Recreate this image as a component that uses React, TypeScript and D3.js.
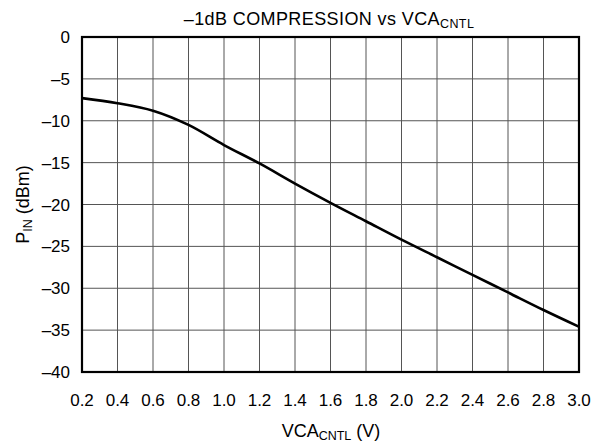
import React from "react";
import * as d3 from "d3";

const vcaValues = [0.2, 0.4, 0.6, 0.8, 1.0, 1.2, 1.4, 1.6, 1.8, 2.0, 2.2, 2.4, 2.6, 2.8, 3.0];
const pinValues = [-7.3, -7.9, -8.8, -10.5, -12.9, -15.1, -17.5, -19.8, -22.0, -24.2, -26.3, -28.4, -30.5, -32.6, -34.6];
const xTicks = [0.2, 0.4, 0.6, 0.8, 1.0, 1.2, 1.4, 1.6, 1.8, 2.0, 2.2, 2.4, 2.6, 2.8, 3.0];
const yTicks = [0, -5, -10, -15, -20, -25, -30, -35, -40];

const W = 594, H = 444;
const L = 82, R = 579, T = 37, B = 372;
const font = "'Liberation Sans', Arial, sans-serif";

export default function App() {
  const x = d3.scaleLinear().domain([0.2, 3.0]).range([L, R]);
  const y = d3.scaleLinear().domain([-40, 0]).range([B, T]);
  const pts = vcaValues.map((v, i) => [v, pinValues[i]] as [number, number]);
  const line = d3.line<[number, number]>().x(d => x(d[0])).y(d => y(d[1])).curve(d3.curveMonotoneX);
  const fmt = (v: number) => (v < 0 ? "\u2013" + Math.abs(v) : String(v));
  return (
    <svg width={W} height={H} style={{ position: "absolute", left: 0, top: 0, background: "#fff" }} fontFamily={font}>
      <rect x={0} y={0} width={W} height={H} fill="#fff" />
      {xTicks.map(t => (
        <line key={"gx" + t} x1={x(t)} x2={x(t)} y1={T} y2={B} stroke="#555" strokeWidth={1} />
      ))}
      {yTicks.map(t => (
        <line key={"gy" + t} x1={L} x2={R} y1={y(t)} y2={y(t)} stroke="#555" strokeWidth={1} />
      ))}
      <path d={line(pts) || ""} fill="none" stroke="#000" strokeWidth={2.6} />
      <rect x={L} y={T} width={R - L} height={B - T} fill="none" stroke="#000" strokeWidth={2.2} />
      {xTicks.map(t => (
        <text key={"tx" + t} x={x(t)} y={406} textAnchor="middle" fontSize={17} fill="#000">{t.toFixed(1)}</text>
      ))}
      {yTicks.map(t => (
        <text key={"ty" + t} x={70} y={y(t) + 6} textAnchor="end" fontSize={17} fill="#000">{fmt(t)}</text>
      ))}
      <text x={329} y={25} textAnchor="middle" fontSize={18} letterSpacing={0.4} fill="#000">
        {"\u20131dB COMPRESSION vs VCA"}
        <tspan fontSize={12.5} dy={3}>CNTL</tspan>
      </text>
      <text x={331} y={437} textAnchor="middle" fontSize={18} fill="#000">
        VCA<tspan fontSize={12.5} dy={3}>CNTL</tspan><tspan dy={-3}> (V)</tspan>
      </text>
      <text transform={`translate(29,${(T + B) / 2}) rotate(-90)`} textAnchor="middle" fontSize={18} fill="#000">
        P<tspan fontSize={12.5} dy={3}>IN</tspan><tspan dy={-3}> (dBm)</tspan>
      </text>
    </svg>
  );
}
